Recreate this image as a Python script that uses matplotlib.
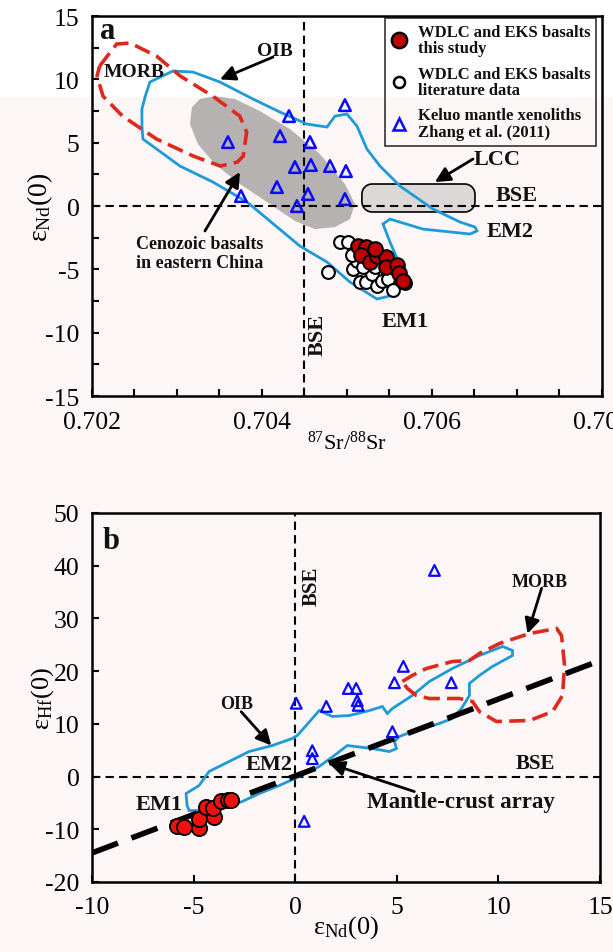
import numpy as np
import matplotlib
matplotlib.use('Agg')
import matplotlib.pyplot as plt
from matplotlib.patches import Polygon, Rectangle
from matplotlib.lines import Line2D
from matplotlib.ticker import MultipleLocator, FixedLocator

plt.rcParams['font.family'] = ['Liberation Serif', 'DejaVu Serif']
plt.rcParams['mathtext.fontset'] = 'custom'
plt.rcParams['mathtext.rm'] = 'Liberation Serif'
plt.rcParams['mathtext.it'] = 'Liberation Serif:italic'
plt.rcParams['mathtext.bf'] = 'Liberation Serif:bold'
plt.rcParams['axes.unicode_minus'] = False

# ---------------- Panel a data ----------------
a_red_sr = [0.705129, 0.705224, 0.705165, 0.705271, 0.705353, 0.705459, 0.705459,
            0.705588, 0.705612, 0.705659, 0.705329]
a_red_nd = [-3.16, -3.24, -3.87, -4.42, -3.95, -4.03, -4.81, -4.66, -5.29, -5.92, -3.39]

a_lit_sr = [0.704918, 0.705012, 0.704776, 0.705071, 0.705118, 0.705153, 0.705224, 0.705294,
            0.705353, 0.705412, 0.705482, 0.705541, 0.705682, 0.705059, 0.705188, 0.705329]
a_lit_nd = [-2.84, -2.84, -5.21, -4.97, -4.34, -6.00, -6.00, -5.37,
            -6.31, -5.92, -5.76, -6.63, -6.08, -3.87, -4.81, -4.81]

a_tri_sr = [0.703600, 0.704212, 0.704318, 0.704565, 0.704976, 0.704388, 0.704576,
            0.704800, 0.704988, 0.704176, 0.704541, 0.704976, 0.703753, 0.704412]
a_tri_nd = [5.05, 5.52, 7.10, 5.05, 7.97, 3.08, 3.24, 3.16, 2.76, 1.50, 0.95, 0.55, 0.79, 0.00]

a_morb_sr = [0.70209, 0.70229, 0.70245, 0.70276, 0.70304, 0.70342, 0.70374, 0.70382,
             0.70378, 0.70371, 0.70351, 0.70319, 0.70276, 0.70236, 0.70213, 0.70206]
a_morb_nd = [11.05, 12.79, 12.87, 11.84, 10.26, 8.68, 7.10, 5.84,
             3.95, 3.47, 3.16, 3.95, 5.29, 7.10, 8.68, 10.26]

a_oib_sr = [0.702624, 0.702682, 0.702953, 0.703188, 0.703506, 0.703894, 0.704212, 0.704529,
            0.704765, 0.704859, 0.705000, 0.705118, 0.705235, 0.705388, 0.705624, 0.706012,
            0.706329, 0.706506, 0.706529, 0.706447, 0.705894, 0.705506, 0.705424, 0.705506,
            0.705659, 0.705659, 0.705506, 0.705353, 0.705035, 0.704765, 0.704447, 0.703824,
            0.703424, 0.703035, 0.702600, 0.702588, 0.702588]
a_oib_nd = [8.60, 9.79, 10.66, 10.58, 9.79, 8.45, 7.42, 6.47,
            6.24, 7.10, 7.26, 6.31, 4.50, 3.16, 1.58, -0.24,
            -1.26, -1.66, -1.97, -2.21, -1.82, -1.03, -1.42, -2.84,
            -5.21, -6.31, -7.10, -7.34, -6.00, -4.42, -3.16, 0.32,
            1.89, 3.16, 5.29, 6.31, 7.66]

a_ceno_sr = [0.703271, 0.703447, 0.703682, 0.703976, 0.704329, 0.704682, 0.704976, 0.705094,
             0.705035, 0.704859, 0.704624, 0.704388, 0.704094, 0.703741, 0.703447, 0.703247,
             0.703153, 0.703176]
a_ceno_nd = [8.45, 8.68, 8.45, 7.50, 6.08, 4.10, 1.74, 0.16,
             -1.03, -1.66, -1.82, -1.18, 0.16, 1.74, 3.31, 4.89,
             6.47, 7.81]

lcc_sr = (0.705176, 0.706506)
lcc_nd = (-0.47, 1.74)

bse_sr = 0.7045
bse_nd = 0.0

a_xticks = [0.702, 0.704, 0.706, 0.708]
a_yticks = [-15, -10, -5, 0, 5, 10, 15]

# ---------------- Panel b data ----------------
b_red_nd = [-5.81, -5.47, -4.73, -4.73, -4.38, -3.99, -4.04, -3.65, -3.30, -3.15]
b_red_hf = [-9.30, -9.49, -9.68, -7.97, -5.69, -7.59, -5.88, -4.55, -4.36, -4.36]

b_tri_nd = [6.85, 5.32, 4.88, 7.68, 2.61, 3.00, 3.05, 3.10, 1.53, 0.05, 4.78, 0.84, 0.84, 0.44]
b_tri_hf = [39.1, 20.9, 17.8, 17.8, 16.7, 16.7, 14.4, 13.5, 13.3, 13.9, 8.5, 4.9, 3.4, -8.5]

b_oib_nd = [-5.32, -5.37, -4.73, -4.24, -3.25, -2.27, -1.13, -0.15, 0.10, 0.54, 1.18, 1.82,
            2.66, 3.65, 4.29, 4.53, 4.78, 5.76, 6.60, 7.73, 9.06, 10.20, 10.69, 10.69,
            9.70, 9.06, 8.57, 8.57, 8.18, 7.73, 7.09, 5.76, 5.12, 4.88, 4.98, 4.63,
            3.79, 2.56, 1.92, 1.18, 0.20, -0.79, -1.77, -2.61, -3.60, -4.73, -5.22]
b_oib_hf = [-5.50, -3.23, -1.71, 0.95, 2.85, 4.74, 5.88, 7.21, 7.78, 9.68, 12.52, 11.39,
            11.57, 12.52, 13.28, 11.95, 12.90, 15.37, 18.03, 20.49, 22.96, 24.67, 23.91, 22.96,
            20.87, 19.17, 17.65, 15.37, 12.90, 11.01, 10.06, 8.54, 7.59, 6.64, 5.31, 4.74,
            5.31, 5.88, 3.98, 1.90, 0.00, -1.71, -3.23, -4.74, -6.07, -6.45, -6.45]

b_morb_nd = [5.27, 5.76, 6.45, 7.73, 8.57, 9.06, 10.05, 11.53, 12.86, 13.10, 13.25, 13.15,
             12.66, 11.53, 9.90, 9.06, 8.72, 8.08, 6.60, 5.96, 5.52]
b_morb_hf = [18.03, 19.17, 20.49, 21.82, 22.01, 23.34, 25.24, 27.13, 28.08, 26.76, 21.06, 15.37,
             12.33, 10.63, 10.44, 12.33, 14.23, 14.80, 14.80, 15.37, 16.70]

array_nd = [-10.0, 15.0]
array_hf = [-14.5, 22.0]

b_xticks = [-10, -5, 0, 5, 10, 15]
b_yticks = [-20, -10, 0, 10, 20, 30, 40, 50]

# ---------------- styling ----------------
PINK = '#fcf6f6'
RED_A = '#c00000'
RED_B = '#f01010'
BLUE_LINE = '#1f9ad8'
MORB_RED = '#dc2b1c'
TRI_BLUE = '#0a0aff'

fig = plt.figure(figsize=(6.13, 9.53), dpi=100, facecolor=PINK)
fig.patches.append(Rectangle((0, 0.897), 1, 0.103, transform=fig.transFigure,
                             facecolor='white', edgecolor='none', zorder=-5))

tick_font = 18.5


def style_axes(ax):
    ax.set_facecolor('none')
    for s in ax.spines.values():
        s.set_linewidth(1.8)
    ax.tick_params(which='both', direction='in', length=5, width=1.5,
                   top=False, right=False, labelsize=tick_font)


def arrow(ax, tail, head):
    ax.annotate('', xy=head, xytext=tail,
                arrowprops=dict(arrowstyle='-|>,head_length=0.9,head_width=0.45',
                                lw=2.0, color='black', shrinkA=0, shrinkB=0))


# ================= Panel a =================
axA = fig.add_axes([0.150, 0.5834, 0.832, 0.3987])
style_axes(axA)
axA.set_xlim(0.702, 0.708)
axA.set_ylim(-15, 15)
axA.xaxis.set_major_locator(FixedLocator(a_xticks))
axA.xaxis.set_minor_locator(MultipleLocator(0.0005))
axA.yaxis.set_major_locator(FixedLocator(a_yticks))
axA.yaxis.set_minor_locator(MultipleLocator(2.5))
axA.set_xticklabels(['%.3f' % v for v in a_xticks])
axA.tick_params(axis='x', which='major', pad=11)
axA.tick_params(axis='y', which='major', pad=9)

# Cenozoic basalts field
axA.add_patch(Polygon(np.column_stack([a_ceno_sr, a_ceno_nd]), closed=True,
                      facecolor='#b7b2b2', edgecolor='none', zorder=1))

# LCC rounded box
rx, ry = 0.00012, 0.8
t = np.linspace(0, np.pi / 2, 10)
x0, x1 = lcc_sr
y0, y1 = lcc_nd
cx = np.concatenate([x1 - rx + rx * np.cos(t), x0 + rx - rx * np.sin(t),
                     x0 + rx - rx * np.cos(t), x1 - rx + rx * np.sin(t)])
cy = np.concatenate([y1 - ry + ry * np.sin(t), y1 - ry + ry * np.cos(t),
                     y0 + ry - ry * np.sin(t), y0 + ry - ry * np.cos(t)])
axA.add_patch(Polygon(np.column_stack([cx, cy]), closed=True, facecolor='#dcd8d8',
                      edgecolor='black', lw=1.2, zorder=1.5))

# BSE lines
axA.axhline(bse_nd, color='black', lw=1.5, ls=(0, (4, 2.5)), zorder=2)
axA.axvline(bse_sr, color='black', lw=1.5, ls=(0, (4, 2.5)), zorder=2)

# OIB field
axA.add_patch(Polygon(np.column_stack([a_oib_sr, a_oib_nd]), closed=True,
                      facecolor='none', edgecolor=BLUE_LINE, lw=2.0, zorder=3))
# MORB field
axA.add_patch(Polygon(np.column_stack([a_morb_sr, a_morb_nd]), closed=True,
                      facecolor='none', edgecolor=MORB_RED, lw=2.6,
                      ls=(0, (4.5, 2)), zorder=3))

# data
axA.scatter(a_tri_sr, a_tri_nd, marker='^', s=70, facecolor='none',
            edgecolor=TRI_BLUE, linewidth=1.8, zorder=4)
axA.scatter(a_lit_sr, a_lit_nd, marker='o', s=85, facecolor='white',
            edgecolor='black', linewidth=1.5, zorder=5)
axA.scatter(a_red_sr, a_red_nd, marker='o', s=110, facecolor=RED_A,
            edgecolor='black', linewidth=1.5, zorder=6)

# texts
bold = dict(fontweight='bold', color='#111111')
axA.text(0.015, 1.0, 'a', transform=axA.transAxes, fontsize=22, ha='left', va='top', **bold)
axA.text(0.702494, 10.66, 'MORB', fontsize=14, ha='center', va='center', **bold)
axA.text(0.704153, 12.3, 'OIB', fontsize=14, ha='center', va='center', **bold)
arrow(axA, (0.704129, 11.76), (0.703506, 10.0))
axA.text(0.706765, 3.71, 'LCC', fontsize=16, ha='center', va='center', **bold)
arrow(axA, (0.706482, 3.71), (0.706035, 1.89))
axA.text(0.70700, 0.87, 'BSE', fontsize=16, ha='center', va='center', **bold)
axA.text(0.704659, -10.1, 'BSE', fontsize=16, ha='center', va='center', rotation=90, **bold)
axA.text(0.706918, -1.95, 'EM2', fontsize=16, ha='center', va='center', **bold)
axA.text(0.705682, -9.1, 'EM1', fontsize=16, ha='center', va='center', **bold)
axA.text(0.703271, -3.7, 'Cenozoic basalts\nin eastern China', fontsize=13,
         ha='center', va='center', linespacing=1.1, **bold)
arrow(axA, (0.703329, -1.97), (0.703741, 2.68))

axA.set_xlabel(r'$\mathregular{^{87}Sr/^{88}Sr}$', fontsize=16)
axA.xaxis.set_label_coords(0.5, -0.092)
axA.set_ylabel(r'$\mathregular{ε_{Nd}(0)}$', fontsize=20)
axA.yaxis.set_label_coords(-0.072, 0.5)

# legend
h1 = Line2D([], [], ls='none', marker='o', ms=11, mfc=RED_A, mec='black', mew=1.8)
h2 = Line2D([], [], ls='none', marker='o', ms=8, mfc='white', mec='black', mew=1.8)
h3 = Line2D([], [], ls='none', marker='^', ms=9, mfc='none', mec=TRI_BLUE, mew=1.8)
leg = axA.legend([h1, h2, h3],
                 ['WDLC and EKS basalts\nthis study',
                  'WDLC and EKS basalts\nliterature data',
                  'Keluo mantle xenoliths\nZhang et al. (2011)'],
                 loc='upper right', bbox_to_anchor=(0.988, 0.995), borderaxespad=0,
                 prop=dict(weight='bold', size=12), frameon=True, fancybox=False,
                 edgecolor='black', facecolor='none', framealpha=None,
                 handlelength=1.0, handletextpad=0.6, labelspacing=0.55,
                 borderpad=0.35)
leg.get_frame().set_linewidth(1.2)
for txt in leg.get_texts():
    txt.set_linespacing(1.05)
    txt.set_color('#111111')

# ================= Panel b =================
axB = fig.add_axes([0.150, 0.0735, 0.829, 0.3872])
style_axes(axB)
axB.set_xlim(-10, 15)
axB.set_ylim(-20, 50)
axB.xaxis.set_major_locator(FixedLocator(b_xticks))
axB.yaxis.set_major_locator(FixedLocator(b_yticks))
axB.tick_params(axis='x', which='major', pad=10)
axB.tick_params(axis='y', which='major', pad=9)

axB.axhline(0, color='black', lw=1.5, ls=(0, (4, 2.5)), zorder=2)
axB.axvline(0, color='black', lw=1.5, ls=(0, (4, 2.5)), zorder=2)

axB.add_patch(Polygon(np.column_stack([b_oib_nd, b_oib_hf]), closed=True,
                      facecolor='none', edgecolor=BLUE_LINE, lw=2.0, zorder=3))
axB.add_patch(Polygon(np.column_stack([b_morb_nd, b_morb_hf]), closed=True,
                      facecolor='none', edgecolor=MORB_RED, lw=2.6,
                      ls=(0, (4.5, 2)), zorder=3))
axB.plot(array_nd, array_hf, color='black', lw=4, ls=(0, (5, 2.6)), zorder=3.5,
         solid_capstyle='butt', dash_capstyle='butt')

axB.scatter(b_tri_nd, b_tri_hf, marker='^', s=60, facecolor='none',
            edgecolor=TRI_BLUE, linewidth=1.6, zorder=4)
axB.scatter(b_red_nd, b_red_hf, marker='o', s=120, facecolor=RED_B,
            edgecolor='black', linewidth=1.3, zorder=6)

axB.text(0.02, 0.965, 'b', transform=axB.transAxes, fontsize=22, ha='left', va='top', **bold)
axB.text(0.79, 36.2, 'BSE', fontsize=15, ha='center', va='center', rotation=90, **bold)
axB.text(11.8, 2.6, 'BSE', fontsize=15, ha='center', va='center', **bold)
axB.text(12.0, 37.0, 'MORB', fontsize=13, ha='center', va='center', **bold)
arrow(axB, (12.12, 35.7), (11.43, 27.1))
axB.text(-2.9, 13.85, 'OIB', fontsize=13, ha='center', va='center', **bold)
arrow(axB, (-2.66, 12.3), (-1.18, 5.9))
axB.text(-1.28, 2.3, 'EM2', fontsize=16, ha='center', va='center', **bold)
axB.text(-6.7, -5.3, 'EM1', fontsize=16, ha='center', va='center', **bold)
axB.text(8.13, -4.74, 'Mantle-crust array', fontsize=16.5, ha='center', va='center', **bold)
arrow(axB, (5.86, -2.85), (1.67, 2.47))

axB.set_xlabel(r'$\mathregular{ε_{Nd}(0)}$', fontsize=19)
axB.xaxis.set_label_coords(0.5, -0.085)
axB.set_ylabel(r'$\mathregular{ε_{Hf}(0)}$', fontsize=19)
axB.yaxis.set_label_coords(-0.07, 0.5)

fig.savefig('out.png', dpi=100, facecolor=fig.get_facecolor())
